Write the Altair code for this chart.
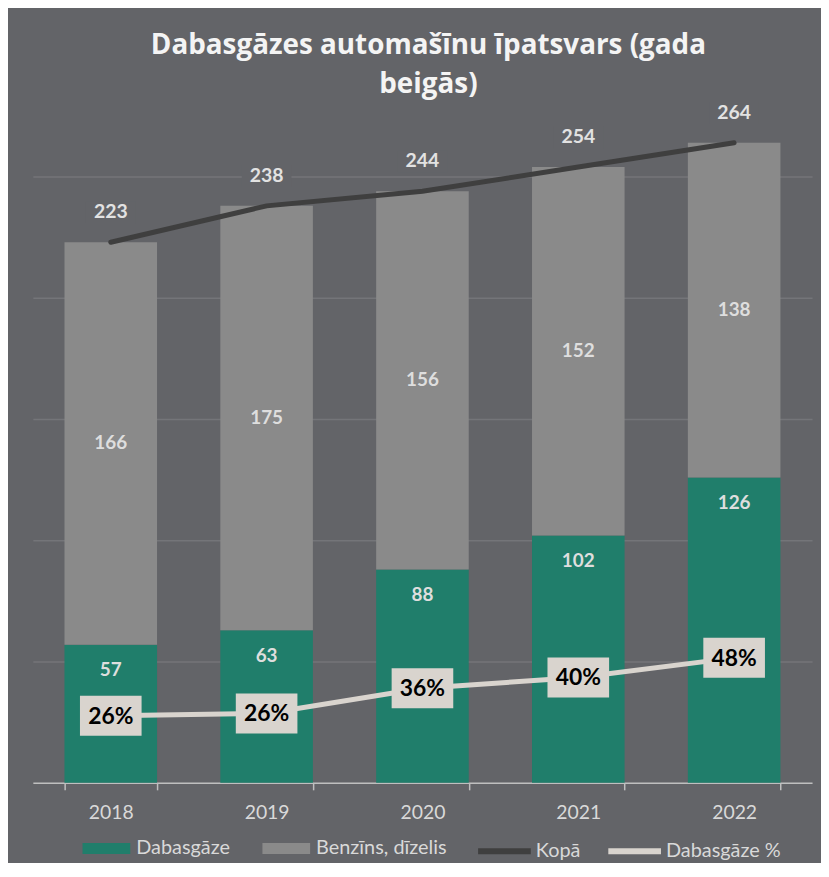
import altair as alt
import pandas as pd

# ---- data ----
years = ["2018", "2019", "2020", "2021", "2022"]
gas = [57, 63, 88, 102, 126]              # Dabasgāze
other = [166, 175, 156, 152, 138]         # Benzīns, dīzelis
total = [223, 238, 244, 254, 264]         # Kopā
gas_pct = [25.6, 26.5, 36.1, 40.2, 47.7]  # Dabasgāze %
pct_labels = ["26%", "26%", "36%", "40%", "48%"]

series_names = ["Dabasgāze", "Benzīns, dīzelis"]
line_names = ["Kopā", "Dabasgāze %"]

# ---- styles ----
BG = "#636468"
GREEN = "#207e6b"
GRAY = "#8a8a8a"
DARK = "#3f3f3f"
BEIGE = "#d9d4ce"
LABEL = "#dedede"
FONT = "Lato"

long_rows = []
for i, y in enumerate(years):
    long_rows.append({"year": y, "series": series_names[0], "value": gas[i], "ord": 0})
    long_rows.append({"year": y, "series": series_names[1], "value": other[i], "ord": 1})
long_df = pd.DataFrame(long_rows)

wide_df = pd.DataFrame({
    "year": years, "gas": gas, "other": other, "total": total,
    "pct": gas_pct, "pct_label": pct_labels,
    "kopa": [line_names[0]] * 5, "pctname": [line_names[1]] * 5,
})

x_enc = alt.X(
    "year:N",
    sort=years,
    scale=alt.Scale(paddingInner=0.406, paddingOuter=0.203),
    axis=alt.Axis(
        title=None, labelAngle=0, domainColor="#bfbfbf", domainWidth=1.5,
        tickColor="#bfbfbf", tickWidth=1.5, tickSize=7, tickBand="extent",
        labelFont=FONT, labelFontSize=19.5, labelColor="#d9d9d9",
        labelPadding=14, grid=False,
    ),
)

y_axis = alt.Axis(
    values=[50, 100, 150, 200, 250], grid=True, gridColor="#747579",
    gridWidth=1.5, domain=False, ticks=False, labels=False, title=None,
)
y_scale = alt.Scale(domain=[0, 280], nice=False, zero=True)
p_scale = alt.Scale(domain=[0, 259], nice=False, zero=True)

bars = alt.Chart(long_df).mark_bar().encode(
    x=x_enc,
    y=alt.Y("value:Q", stack="zero", scale=y_scale, axis=y_axis),
    color=alt.Color(
        "series:N",
        scale=alt.Scale(domain=series_names, range=[GREEN, GRAY]),
        legend=alt.Legend(
            title=None, orient="none", legendX=50, legendY=725,
            direction="horizontal",
            symbolType="M-1,-0.23L1,-0.23L1,0.23L-1,0.23Z",
            symbolSize=2304, symbolStrokeWidth=0, symbolOpacity=1,
            labelFont=FONT, labelFontSize=20, labelColor="#d9d9d9",
            labelOffset=6, columnPadding=32, labelLimit=300,
        ),
    ),
    order=alt.Order("ord:Q"),
)

green_text = alt.Chart(wide_df).mark_text(
    font=FONT, fontSize=19, fontWeight="bold", color=LABEL, dy=26, baseline="middle"
).encode(
    x=x_enc,
    y=alt.Y("gas:Q", scale=y_scale, axis=y_axis),
    text=alt.Text("gas:Q"),
)

gray_text = alt.Chart(wide_df).transform_calculate(
    mid="datum.gas + datum.other / 2"
).mark_text(
    font=FONT, fontSize=19, fontWeight="bold", color=LABEL, baseline="middle"
).encode(
    x=x_enc,
    y=alt.Y("mid:Q", scale=y_scale, axis=y_axis),
    text=alt.Text("other:Q"),
)

total_boxes = alt.Chart(wide_df).mark_point(
    shape="M-1,-0.44L1,-0.44L1,0.44L-1,0.44Z", size=2500, filled=True,
    color=BG, opacity=1, yOffset=-30,
).encode(
    x=x_enc,
    y=alt.Y("total:Q", scale=y_scale, axis=y_axis),
)

total_line = alt.Chart(wide_df).mark_line(strokeWidth=5, strokeCap="round").encode(
    x=x_enc,
    y=alt.Y("total:Q", scale=y_scale, axis=y_axis),
    stroke=alt.Stroke(
        "kopa:N",
        scale=alt.Scale(domain=line_names, range=[DARK, BEIGE]),
        legend=alt.Legend(
            title=None, orient="none", legendX=445, legendY=722,
            direction="horizontal", symbolType="stroke", symbolSize=2809,
            symbolStrokeWidth=6,
            labelFont=FONT, labelFontSize=20, labelColor="#d9d9d9",
            labelOffset=2, columnPadding=16, labelLimit=300,
        ),
    ),
)

total_text = alt.Chart(wide_df).mark_text(
    font=FONT, fontSize=19.5, fontWeight="bold", color="#e2e2e2", dy=-30, baseline="middle"
).encode(
    x=x_enc,
    y=alt.Y("total:Q", scale=y_scale, axis=y_axis),
    text=alt.Text("total:Q"),
)

pct_line = alt.Chart(wide_df).mark_line(strokeWidth=5, strokeCap="round").encode(
    x=x_enc,
    y=alt.Y("pct:Q", scale=p_scale, axis=None),
    stroke=alt.Stroke("pctname:N", scale=alt.Scale(domain=line_names, range=[DARK, BEIGE])),
)

pct_boxes = alt.Chart(wide_df).mark_point(
    shape="M-1,-0.65L1,-0.65L1,0.65L-1,0.65Z", size=3844, filled=True,
    color=BEIGE, opacity=1,
).encode(
    x=x_enc,
    y=alt.Y("pct:Q", scale=p_scale, axis=None),
)

pct_text = alt.Chart(wide_df).mark_text(
    font=FONT, fontSize=23, fontWeight="bold", color="#000000", baseline="middle", dy=1
).encode(
    x=x_enc,
    y=alt.Y("pct:Q", scale=p_scale, axis=None),
    text=alt.Text("pct_label:N"),
)

count_layers = alt.layer(bars, green_text, gray_text, total_boxes, total_line, total_text)
pct_layers = alt.layer(pct_line, pct_boxes, pct_text)

chart = alt.layer(count_layers, pct_layers).resolve_scale(
    y="independent"
).properties(
    width=784,
    height=683,
    padding={"left": 25, "top": 94, "right": 9, "bottom": 78},
    autosize=alt.AutoSizeParams(type="none"),
    title=alt.TitleParams(
        text=["Dabasgāzes automašīnu īpatsvars (gada", "beigās)"],
        font="Open Sans", fontSize=28, fontWeight="bold", color="#f4f4f4",
        anchor="middle", lineHeight=39, offset=3, dx=6,
    ),
).configure(
    background=BG,
).configure_view(
    stroke=None,
)

chart.save("out.html", embed_options={"renderer": "svg", "actions": False})
